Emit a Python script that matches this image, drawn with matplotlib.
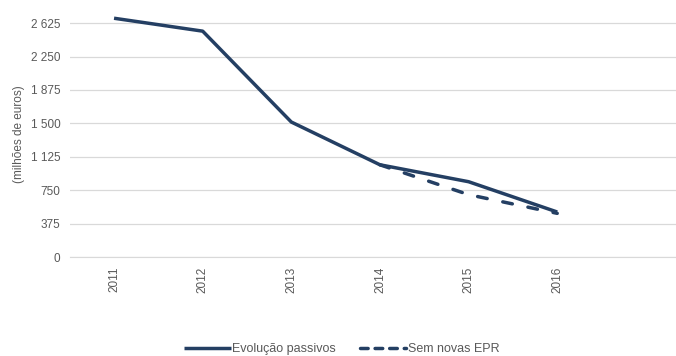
import matplotlib
matplotlib.use("Agg")
import matplotlib.pyplot as plt
from matplotlib.ticker import FuncFormatter

years = ["2011", "2012", "2013", "2014", "2015", "2016"]
evolucao = [2680, 2535, 1515, 1035, 845, 505]
sem_novas_years = ["2014", "2015", "2016"]
sem_novas = [1035, 700, 490]
yticks = [0, 375, 750, 1125, 1500, 1875, 2250, 2625]

plt.rcParams['font.family'] = ['Liberation Sans', 'DejaVu Sans']
color = '#243F63'
txt = '#595959'

fig = plt.figure(figsize=(6.76, 3.56), dpi=100)
ax = fig.add_axes([70/676, 1-257/356, 606/676, (257-12)/356])

xs = list(range(len(years)))
ax.plot(xs, evolucao, color=color, lw=2.5, solid_capstyle='butt', solid_joinstyle='round',
        label='Evolução passivos', zorder=3)
xd = [years.index(y) for y in sem_novas_years]
ax.plot(xd, sem_novas, color=color, lw=2.5, ls=(0, (2.8, 4.6)), dash_capstyle='round',
        label='Sem novas EPR', zorder=3)

ax.set_xlim(-0.497, 6.34)
ax.set_ylim(0, 2750)
ax.set_yticks(yticks)
ax.yaxis.set_major_formatter(FuncFormatter(lambda v, p: f"{int(v):,}".replace(",", " ")))
ax.set_xticks(xs)
ax.set_xticklabels(years, rotation=90)
ax.tick_params(axis='both', length=0, labelsize=8.5, colors=txt)
ax.tick_params(axis='x', pad=7)
ax.tick_params(axis='y', pad=7)
ax.grid(axis='y', color='#D9D9D9', lw=0.9)
ax.set_axisbelow(True)
for s in ['top', 'right', 'left']:
    ax.spines[s].set_visible(False)
ax.spines['bottom'].set_color('#D9D9D9')
ax.set_ylabel('(milhões de euros)', fontsize=8.5, color=txt, labelpad=4)

leg = fig.legend(loc='center', bbox_to_anchor=(342/676, 1-349/356), ncol=2, frameon=False,
                 fontsize=9, handlelength=3.7, columnspacing=1.9, handletextpad=0.15)
for t in leg.get_texts():
    t.set_color(txt)
leg.get_lines()[1].set_dashes((2.2, 2.0))

fig.savefig('out.png', dpi=100)
